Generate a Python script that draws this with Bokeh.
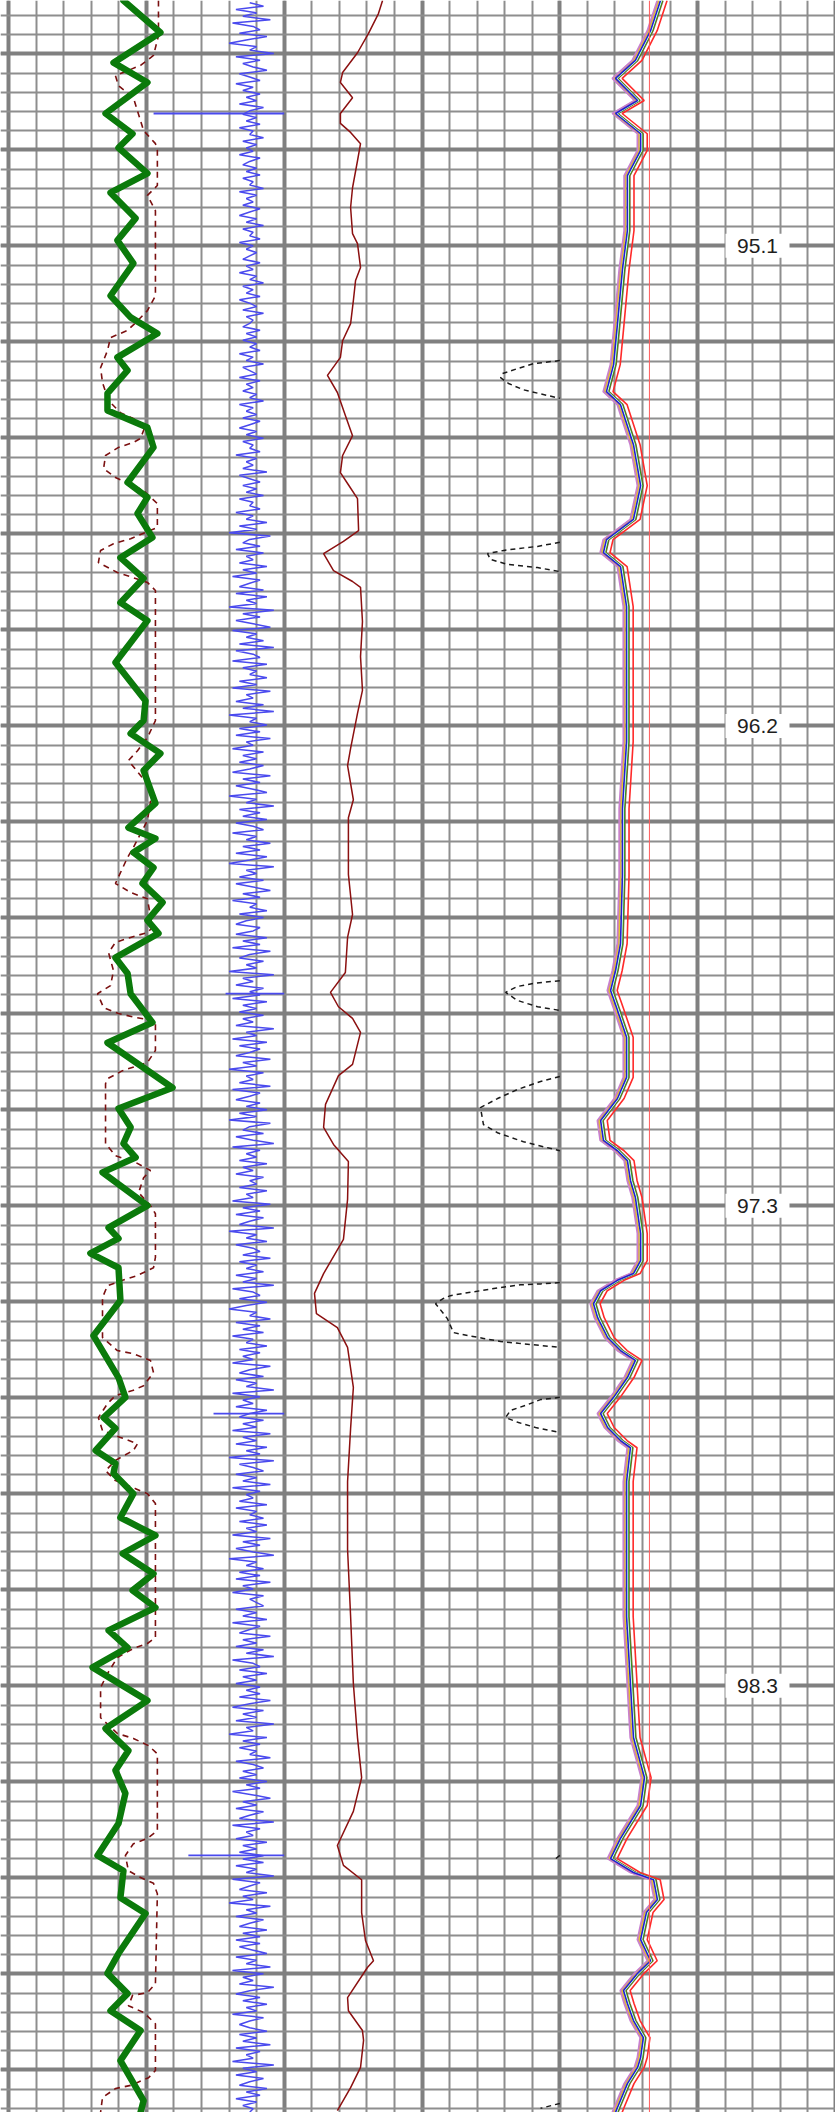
import numpy as np
from bokeh.plotting import figure
from bokeh.models import Range1d, Grid, FixedTicker, Span
from bokeh.core.properties import value
from bokeh.embed import file_html
from bokeh.resources import INLINE

nan = float("nan")

# ---------------- data (depth in m) ----------------
# Track 1: gamma ray (green), gAPI 0-100
GR_DEPTH = [
    94.585, 94.656, 94.723, 94.767, 94.836, 94.881, 94.912, 94.969, 95.012, 95.069,
    95.118, 95.169, 95.241, 95.289, 95.325, 95.378, 95.407, 95.458, 95.496, 95.534,
    95.578, 95.656, 95.689, 95.725, 95.778, 95.823, 95.869, 95.923, 95.963, 96.056,
    96.141, 96.185, 96.214, 96.258, 96.296, 96.369, 96.423, 96.447, 96.478, 96.512,
    96.547, 96.589, 96.629, 96.658, 96.712, 96.747, 96.792, 96.856, 96.901, 97.001,
    97.047, 97.089, 97.125, 97.156, 97.189, 97.263, 97.312, 97.336, 97.369, 97.401,
    97.474, 97.552, 97.645, 97.689, 97.734, 97.758, 97.807, 97.836, 97.858, 97.903,
    97.956, 97.996, 98.036, 98.081, 98.118, 98.156, 98.207, 98.245, 98.289, 98.363,
    98.425, 98.474, 98.518, 98.569, 98.636, 98.707, 98.741, 98.801, 98.836, 98.925,
    98.969, 99.014, 99.052, 99.096, 99.163, 99.252, 99.278]
GR = [
    41.7, 55.1, 38.1, 50.4, 35.2, 45.0, 39.9, 50.4, 37.0, 46.1,
    39.5, 45.3, 37.0, 44.3, 54.0, 39.5, 43.2, 35.9, 35.9, 50.4,
    52.6, 43.2, 50.4, 46.8, 52.2, 40.6, 49.0, 40.6, 50.4, 38.8,
    49.7, 49.0, 44.3, 55.1, 49.0, 53.3, 43.5, 53.3, 45.3, 52.6,
    48.6, 55.9, 50.4, 54.4, 38.8, 43.2, 44.3, 52.2, 35.9, 59.5,
    39.9, 44.3, 41.7, 46.1, 34.1, 50.4, 36.3, 39.9, 29.7, 39.9,
    40.6, 30.8, 39.9, 42.4, 34.5, 38.8, 31.6, 38.8, 38.1, 45.3,
    40.6, 53.3, 41.4, 52.6, 45.0, 53.3, 36.3, 43.2, 30.5, 50.4,
    35.2, 43.5, 38.8, 42.4, 39.9, 32.3, 41.7, 40.6, 49.7, 39.9,
    35.9, 43.2, 37.0, 47.9, 40.6, 49.0, 47.9]

# Track 1: caliper (dashed dark red), in 6-16
CALI_DEPTH = [
    94.585, 94.663, 94.707, 94.729, 94.752, 94.774, 94.801, 94.874, 94.903, 94.918,
    94.996, 95.018, 95.052, 95.241, 95.274, 95.301, 95.318, 95.334, 95.363, 95.401,
    95.434, 95.474, 95.501, 95.514, 95.529, 95.558, 95.567, 95.578, 95.596, 95.625,
    95.645, 95.674, 95.703, 95.756, 95.781, 95.792, 95.807, 95.834, 95.856, 95.867,
    95.878, 95.896, 96.185, 96.223, 96.252, 96.274, 96.307, 96.341, 96.407, 96.467,
    96.489, 96.547, 96.567, 96.581, 96.645, 96.656, 96.667, 96.678, 96.701, 96.741,
    96.774, 96.792, 96.823, 96.836, 96.845, 96.852, 96.918, 96.945, 96.963, 96.981,
    96.992, 97.125, 97.152, 97.167, 97.185, 97.201, 97.234, 97.263, 97.281, 97.378,
    97.401, 97.418, 97.429, 97.441, 97.467, 97.556, 97.585, 97.592, 97.607, 97.634,
    97.663, 97.674, 97.685, 97.703, 97.734, 97.763, 97.778, 97.792, 97.807, 97.829,
    97.852, 97.874, 97.892, 97.903, 97.925, 98.223, 98.236, 98.247, 98.267, 98.303,
    98.334, 98.401, 98.436, 98.447, 98.463, 98.481, 98.652, 98.669, 98.681, 98.707,
    98.741, 98.756, 98.769, 98.792, 98.992, 99.012, 99.018, 99.041, 99.056, 99.081,
    99.185, 99.201, 99.218, 99.225, 99.245, 99.278]
CALI = [
    11.44, 11.44, 11.26, 10.79, 9.88, 9.99, 10.53, 10.90, 11.33, 11.40,
    11.40, 11.04, 11.33, 11.33, 11.04, 10.61, 10.32, 9.70, 9.59, 9.34,
    9.41, 9.63, 10.06, 10.53, 10.97, 10.79, 10.53, 9.99, 9.52, 9.45,
    9.88, 10.90, 11.40, 11.40, 10.43, 9.81, 9.34, 9.26, 9.95, 10.50,
    11.04, 11.33, 11.33, 11.04, 10.68, 10.35, 10.79, 11.22, 11.04, 10.53,
    10.32, 9.88, 10.43, 11.04, 11.22, 11.04, 10.43, 9.88, 9.63, 9.81,
    9.70, 9.23, 9.45, 9.99, 10.61, 11.33, 11.33, 11.04, 10.14, 9.59,
    9.52, 9.52, 9.88, 10.61, 11.15, 10.90, 10.72, 11.15, 11.33, 11.33,
    11.26, 10.68, 10.14, 9.59, 9.41, 9.41, 9.95, 10.53, 11.15, 11.26,
    10.90, 10.50, 9.88, 9.59, 9.26, 9.41, 10.06, 10.68, 10.53, 9.88,
    9.52, 9.88, 10.61, 11.04, 11.33, 11.33, 11.04, 10.53, 9.95, 9.59,
    9.34, 9.34, 9.95, 10.53, 11.08, 11.40, 11.40, 11.04, 10.53, 10.24,
    10.35, 10.79, 11.26, 11.40, 11.33, 11.04, 10.50, 10.35, 10.90, 11.33,
    11.33, 11.08, 10.43, 9.88, 9.41, 9.34]

# Track 1: noisy amplitude trace (blue), scale 18-98, sampled every AMP_STEP from AMP_TOP
AMP_TOP = 94.59
AMP_STEP = 0.0075
AMP = [
    88, 92, 84, 90, 86, 94, 83, 89, 91, 85, 93, 87, 82, 90, 88, 95, 84, 91, 86, 89, 93, 85, 88, 91, 84,
    89, 86, 91, 87, 90, 85, 92, 88, 86, 90, 87, 91, 85, 89, 88, 92, 86, 90, 87, 89, 85, 91, 88, 86, 90,
    87, 91, 86, 89, 88, 92, 85, 90, 87, 89, 86, 91, 88, 85, 90, 87, 92, 86, 89, 88, 91, 85, 89, 87, 90,
    88, 86, 91, 87, 89, 85, 90, 88, 92, 86, 89, 87, 91, 85, 88, 90, 86, 92, 87, 89, 88, 86, 91, 87, 90,
    86, 90, 88, 91, 85, 89, 87, 92, 86, 88, 90, 85, 91, 87, 89, 86, 90, 88, 92, 85, 89, 87, 90, 86, 91,
    88, 85, 90, 87, 92, 86, 89, 88, 91, 84, 90, 87, 89, 86, 93, 85, 88, 91, 86, 90, 87, 92, 85, 89, 88,
    91, 84, 89, 87, 93, 85, 90, 82, 94, 88, 86, 91, 84, 92, 87, 89, 85, 93, 86, 90, 83, 91, 88, 85, 92,
    84, 93, 87, 90, 82, 95, 86, 91, 84, 89, 94, 83, 90, 87, 92, 85, 95, 84, 89, 91, 83, 93, 86, 90, 88,
    93, 85, 90, 83, 94, 87, 89, 84, 92, 86, 95, 82, 90, 88, 93, 85, 91, 84, 94, 87, 89, 83, 92, 86, 90,
    85, 92, 88, 83, 94, 86, 91, 84, 89, 93, 82, 90, 87, 95, 85, 91, 86, 93, 84, 89, 92, 83, 90, 87, 94,
    86, 91, 84, 93, 88, 82, 95, 87, 90, 85, 92, 84, 89, 94, 86, 91, 83, 90, 88, 93, 85, 92, 87, 84, 91,
    89, 84, 93, 86, 91, 83, 94, 88, 85, 92, 87, 90, 82, 95, 86, 89, 84, 92, 88, 91, 83, 93, 86, 90, 85,
    92, 86, 89, 84, 95, 87, 90, 83, 93, 85, 91, 88, 84, 94, 86, 90, 82, 92, 87, 89, 85, 94, 83, 91, 88,
    84, 91, 87, 93, 85, 90, 82, 94, 88, 86, 92, 84, 89, 95, 83, 91, 87, 90, 85, 93, 86, 89, 84, 92, 88,
    90, 85, 93, 87, 89, 83, 94, 86, 91, 84, 92, 88, 85, 95, 82, 90, 87, 93, 84, 89, 91, 86, 94, 85, 90,
    87, 92, 84, 90, 86, 95, 83, 89, 91, 85, 93, 87, 82, 90, 88, 94, 84, 91, 86, 92, 83, 89, 87, 93, 85,
    91, 86, 89, 83, 94, 88, 85, 92, 84, 90, 87, 95, 83, 91, 86, 89, 84, 93, 88, 85, 92, 86, 90, 83, 94,
    86, 90, 84, 93, 87, 91, 82, 95, 85, 89, 92, 84, 90, 86, 94, 83, 91, 87, 89, 85, 93, 84, 90, 88, 92,
    85, 93, 87, 90, 83, 94, 86, 91, 84, 89, 95, 82, 90, 87, 92, 85, 91, 84, 94, 86, 89, 83, 92, 88, 90,
    92, 84, 90, 86, 93, 83, 91, 88, 85, 94, 86, 90, 84, 92, 87, 95, 83, 89, 91, 85, 93, 86, 90, 84, 91,
    87, 91, 85, 94, 88, 83, 92, 86, 90, 84, 95, 87, 89, 82, 93, 86, 91, 85, 90, 88, 94, 84, 89, 92, 86,
    90, 85, 93, 87, 91, 83, 89, 94, 86, 90, 84, 92, 88, 85, 95, 83, 91, 87, 89, 84, 93, 86, 90, 85, 92,
    86, 92, 84, 90, 87, 95, 83, 91, 88, 85, 93, 86, 89, 82, 94, 87, 90, 84, 92, 88, 85, 93, 86, 91, 84,
    91, 85, 89, 93, 84, 90, 87, 94, 83, 92, 86, 89, 85, 95, 88, 84, 91, 86, 93, 87, 90, 83, 92, 88, 85,
    88, 93, 85, 90, 86, 94, 84, 91, 87, 89, 83, 95, 86, 90, 84, 92, 88, 85, 93, 87, 91, 84, 90, 86, 89,
    88]
AMP_SPIKE_DEPTH = [94.836, 96.792, 97.725, 98.707]
AMP_SPIKE_LEFT = [60.1, 81.0, 77.5, 70.2]
AMP_SPIKE_RIGHT = [98.0, 98.0, 98.0, 98.0]

# Track 2: resistivity (dark red), 0-10
RES_DEPTH = [
    94.585, 94.614, 94.658, 94.701, 94.745, 94.767, 94.801, 94.836, 94.858, 94.878,
    94.903, 94.941, 95.001, 95.045, 95.103, 95.125, 95.178, 95.207, 95.252, 95.303,
    95.341, 95.378, 95.418, 95.456, 95.507, 95.552, 95.596, 95.634, 95.661, 95.692,
    95.763, 95.787, 95.814, 95.852, 95.876, 95.889, 95.965, 96.043, 96.118, 96.169,
    96.247, 96.285, 96.361, 96.401, 96.527, 96.616, 96.667, 96.745, 96.789, 96.821,
    96.847, 96.878, 96.949, 96.974, 97.038, 97.089, 97.127, 97.165, 97.249, 97.338,
    97.414, 97.458, 97.503, 97.534, 97.578, 97.667, 97.758, 97.876, 98.027, 98.176,
    98.325, 98.445, 98.534, 98.609, 98.685, 98.729, 98.761, 98.834, 98.896, 98.941,
    98.956, 99.023, 99.052, 99.096, 99.118, 99.178, 99.223, 99.274]
RES = [
    3.57, 3.42, 3.06, 2.66, 2.12, 2.04, 2.48, 2.04, 2.04, 2.41,
    2.77, 2.66, 2.48, 2.41, 2.48, 2.66, 2.77, 2.59, 2.51, 2.41,
    2.12, 2.04, 1.57, 1.93, 2.22, 2.48, 2.12, 2.04, 2.33, 2.66,
    2.70, 2.15, 1.43, 1.79, 2.48, 2.77, 2.84, 2.77, 2.84, 2.66,
    2.41, 2.30, 2.51, 2.33, 2.33, 2.48, 2.30, 2.22, 1.68, 1.97,
    2.48, 2.77, 2.48, 1.97, 1.50, 1.43, 1.79, 2.33, 2.30, 2.15,
    1.43, 1.10, 1.17, 1.93, 2.30, 2.51, 2.41, 2.30, 2.30, 2.41,
    2.51, 2.66, 2.81, 2.51, 1.93, 2.15, 2.81, 2.81, 2.95, 3.24,
    3.02, 2.30, 2.33, 2.84, 2.88, 2.77, 2.41, 1.93]

# Track 2: deep reading (black dashed), 0-10; off-scale parts left blank
LLD_DEPTH = [
    95.385, 95.392, 95.403, 95.414, 95.423, 95.436, 95.450, 95.458, 95.469, nan,
    95.789, 95.798, 95.803, 95.807, 95.814, 95.827, 95.838, 95.845, 95.854, nan,
    96.763, 96.769, 96.776, 96.789, 96.807, 96.821, 96.829, nan,
    96.976, 96.987, 97.005, 97.025, 97.045, 97.083, 97.101, 97.121, 97.141, nan,
    97.434, 97.437, 97.439, 97.445, 97.452, 97.458, 97.463, 97.469, 97.481, 97.489,
    97.514, 97.545, 97.552, 97.558, 97.565, 97.569, 97.572, 97.578, nan,
    97.689, 97.694, 97.707, 97.718, 97.734, 97.745, 97.756, 97.767, nan,
    98.707, 98.718, nan,
    99.258, 99.269]
LLD = [
    10.0, 9.04, 8.46, 7.92, 7.85, 8.14, 8.68, 9.23, 10.0, nan,
    10.0, 9.19, 8.46, 7.96, 7.38, 7.48, 8.10, 9.19, 10.0, nan,
    10.0, 9.04, 8.46, 8.03, 8.46, 9.19, 10.0, nan,
    10.0, 9.30, 8.46, 7.74, 7.12, 7.23, 7.74, 8.68, 10.0, nan,
    10.0, 9.30, 8.57, 7.85, 7.12, 6.51, 6.03, 5.78, 5.49, 5.60,
    5.92, 6.14, 6.69, 7.23, 7.85, 8.50, 9.04, 10.0, nan,
    10.0, 9.30, 8.75, 8.21, 8.03, 8.50, 9.12, 10.0, nan,
    10.0, 9.77, nan,
    10.0, 9.30]

# Track 3: array of curves (central curve + read spread of each curve)
AR_DEPTH = [
    94.585, 94.652, 94.718, 94.758, 94.807, 94.836, 94.881, 94.918, 94.974, 95.096,
    95.183, 95.303, 95.394, 95.454, 95.483, 95.572, 95.663, 95.738, 95.783, 95.812,
    95.843, 95.932, 96.081, 96.232, 96.381, 96.529, 96.681, 96.741, 96.785, 96.829,
    96.889, 96.978, 97.025, 97.074, 97.118, 97.141, 97.163, 97.207, 97.245, 97.325,
    97.385, 97.414, 97.429, 97.452, 97.481, 97.512, 97.556, 97.585, 97.607, 97.645,
    97.689, 97.725, 97.756, 97.785, 97.801, 97.876, 98.027, 98.176, 98.325, 98.445,
    98.534, 98.596, 98.669, 98.714, 98.745, 98.761, 98.805, 98.834, 98.894, 98.941,
    98.969, 99.007, 99.036, 99.074, 99.112, 99.156, 99.178, 99.214, 99.267, 99.278]
AR_BASE = [
    3.65, 3.29, 2.74, 2.02, 2.82, 2.02, 2.93, 2.93, 2.45, 2.45,
    2.27, 2.09, 1.95, 1.69, 2.20, 2.67, 2.93, 2.67, 1.69, 1.58,
    2.20, 2.42, 2.42, 2.42, 2.27, 2.27, 2.20, 2.02, 1.84, 2.09,
    2.42, 2.42, 2.09, 1.48, 1.58, 2.09, 2.45, 2.56, 2.74, 2.93,
    2.93, 2.67, 2.09, 1.48, 1.22, 1.37, 1.73, 2.20, 2.74, 2.45,
    1.95, 1.48, 1.73, 2.20, 2.56, 2.42, 2.42, 2.42, 2.56, 2.67,
    3.07, 2.93, 2.20, 1.84, 2.67, 3.40, 3.54, 3.14, 2.93, 3.29,
    2.82, 2.31, 2.45, 2.67, 3.03, 2.93, 2.82, 2.45, 2.09, 2.02]
AR_SPREAD = [-0.06, -0.09, 0.24, 0.09, 0.06, 0.03, -0.12, 0.0]
AR_COLORS = ["#e8d020", "#dba060", "#ff2a2a", "#8b5a2b", "#1fa01f", "#eaffff", "#c880d0", "#2020d0"]
AR_CUTOFF = 3.25

DEPTH_LABELS = ["95.1", "96.2", "97.3", "98.3"]
DEPTH_LABEL_AT = [95.130, 96.197, 97.263, 98.330]

# ---------------- layout ----------------
W, H = 835, 2112
X0_PX = 8.0                # left edge of track 1, px
DIV_PX = 27.567            # one grid division, px
PX_PER_M = 450.0
LABEL_Y_PX = 245.3
X_MIN = -X0_PX / DIV_PX
X_MAX = (W - X0_PX) / DIV_PX
Y_TOP = DEPTH_LABEL_AT[0] - LABEL_Y_PX / PX_PER_M
Y_BOTTOM = Y_TOP + H / PX_PER_M
LABEL_X = 27.17


def track(lo, hi, first_div):
    per = (hi - lo) / 10.0
    return Range1d(lo + (X_MIN - first_div) * per, lo + (X_MAX - first_div) * per)


p = figure(width=W, height=H, output_backend="svg", toolbar_location=None,
           x_axis_type=None, y_axis_type=None, min_border=0,
           x_range=Range1d(X_MIN, X_MAX), y_range=Range1d(Y_BOTTOM, Y_TOP))
p.outline_line_color = None
p.background_fill_color = "white"
p.border_fill_color = "white"

p.extra_x_ranges = {
    "gr": track(0, 100, 0), "cali": track(6, 16, 0), "amp": track(18, 98, 0),
    "res": track(0, 10, 10), "lld": track(0, 10, 10), "ar": track(0, 10, 20),
}

# grid
maj_y = DEPTH_LABEL_AT[0] + (0.96 / 4.5) * np.arange(-3, 22)
min_y = DEPTH_LABEL_AT[0] + (0.192 / 4.5) * np.arange(-15, 110)
vgrid = Grid(dimension=0, ticker=FixedTicker(ticks=list(range(0, 31, 5)), minor_ticks=list(range(31))),
             grid_line_color="#808080", grid_line_width=4,
             minor_grid_line_color="#8e8e8e", minor_grid_line_width=2)
hgrid = Grid(dimension=1, ticker=FixedTicker(ticks=list(maj_y), minor_ticks=list(min_y)),
             grid_line_color="#808080", grid_line_width=4,
             minor_grid_line_color="#8e8e8e", minor_grid_line_width=2)
p.add_layout(vgrid)
p.add_layout(hgrid)

# track 1
amp_depth = AMP_TOP + AMP_STEP * np.arange(len(AMP))
p.line(AMP, amp_depth, x_range_name="amp", line_color="#4a4aee", line_width=1.5)
p.segment(x0=AMP_SPIKE_LEFT, y0=AMP_SPIKE_DEPTH, x1=AMP_SPIKE_RIGHT, y1=AMP_SPIKE_DEPTH,
          x_range_name="amp", line_color="#4a4aee", line_width=1.8)
p.line(CALI, CALI_DEPTH, x_range_name="cali", line_color="#7a1010", line_width=1.6, line_dash="6 5")
p.line(GR, GR_DEPTH, x_range_name="gr", line_color="#0b7a0b", line_width=6.5,
       line_join="round", line_cap="round")

# track 2
p.line(RES, RES_DEPTH, x_range_name="res", line_color="#8b1010", line_width=1.5)
p.line(np.array(LLD), np.array(LLD_DEPTH), x_range_name="lld", line_color="#1a1a1a",
       line_width=1.5, line_dash="5 4")

# track 3
p.add_layout(Span(location=AR_CUTOFF, dimension="height", x_range_name="ar",
                  line_color="#ff5a5a", line_width=1))
base = np.array(AR_BASE)
for spread, color in zip(AR_SPREAD, AR_COLORS):
    p.line(base + spread, AR_DEPTH, x_range_name="ar", line_color=color, line_width=1.6)

# depth labels
p.rect(x=LABEL_X, y=DEPTH_LABEL_AT, width=64, height=24, width_units="screen", height_units="screen",
       fill_color="white", line_color=None)
p.text(x=LABEL_X, y=DEPTH_LABEL_AT, text=DEPTH_LABELS, text_font=value("Liberation Sans"),
       text_font_size="21px", text_color="#1e1e1e", text_align="center", text_baseline="middle")

open("out.html", "w").write(file_html(p, INLINE))
